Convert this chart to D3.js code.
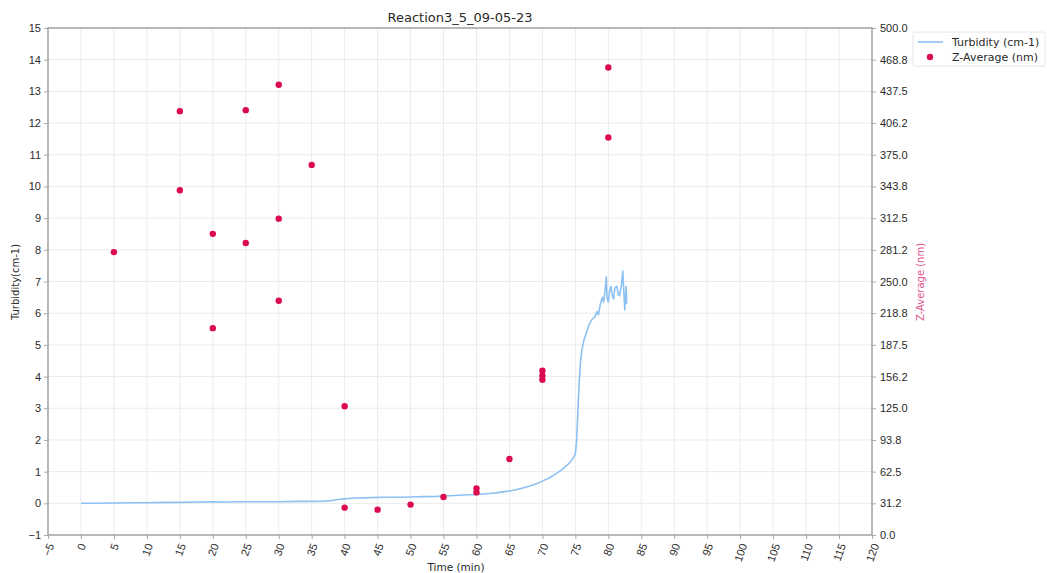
<!DOCTYPE html>
<html>
<head>
<meta charset="utf-8">
<script src="https://cdn.jsdelivr.net/npm/d3@7"></script>
<style>
  html, body { margin: 0; padding: 0; background: #fff; }
  svg { display: block; font-family: "DejaVu Sans", sans-serif; }
</style>
</head>
<body>
<svg id="chart" width="1047" height="573"></svg>
<script>
// Turbidity trace (time in min, turbidity in cm-1)
const turbTime = [0, 2, 5, 8, 10, 13, 15, 18, 20, 22, 25, 28, 30, 33, 35, 37, 38, 39, 40, 41, 42, 44, 46, 48, 50,
  52, 54, 55, 56, 58, 60, 62, 63, 64, 65, 66, 67, 68, 69, 70, 71, 72, 73, 74, 74.6, 75.0, 75.2, 75.4, 75.6, 75.8,
  76.0, 76.3, 76.7, 77.0, 77.5, 78.0, 78.3, 78.5, 78.8, 79.1, 79.3, 79.5, 79.7, 79.8, 80.0, 80.2, 80.4, 80.6, 80.8,
  81.0, 81.3, 81.5, 81.7, 82.0, 82.2, 82.4, 82.5, 82.7, 82.8];
const turbValue = [0.00, 0.00, 0.01, 0.02, 0.02, 0.03, 0.03, 0.04, 0.05, 0.04, 0.05, 0.05, 0.05, 0.06, 0.06, 0.07,
  0.09, 0.12, 0.14, 0.16, 0.17, 0.18, 0.19, 0.19, 0.20, 0.21, 0.22, 0.23, 0.24, 0.26, 0.28, 0.31, 0.33, 0.36, 0.39,
  0.43, 0.48, 0.54, 0.61, 0.70, 0.80, 0.92, 1.07, 1.25, 1.40, 1.55, 2.0, 3.0, 3.9, 4.5, 4.85, 5.15, 5.4, 5.6, 5.8,
  5.9, 6.05, 5.95, 6.3, 6.5, 6.35, 6.7, 7.15, 6.5, 6.35, 6.7, 6.85, 6.55, 6.45, 6.8, 6.85, 6.6, 6.55, 6.9, 7.33,
  6.5, 6.1, 6.85, 6.3];

// Z-Average measurements (time in min, size in nm)
const zTime = [5, 15, 15, 20, 20, 25, 25, 30, 30, 30, 35, 40, 40, 45, 50, 55, 60, 60, 65, 70, 70, 70, 80, 80];
const zValue = [279, 418, 340, 297, 204, 419, 288, 444, 312, 231, 365, 127, 27, 25, 30, 37.5, 46, 42, 75,
  162, 157, 153, 461, 392];

// Axis ticks
const xTicks = d3.range(-5, 121, 5);
const yTicks = d3.range(-1, 16, 1);
const y2Ticks = d3.range(0, 17).map(i => i * 500 / 16);
const y2TickLabels = ["0.0", "31.2", "62.5", "93.8", "125.0", "156.2", "187.5", "218.8", "250.0",
  "281.2", "312.5", "343.8", "375.0", "406.2", "437.5", "468.8", "500.0"];

const titleText = "Reaction3_5_09-05-23";
const xLabel = "Time (min)";
const yLabel = "Turbidity(cm-1)";
const y2Label = "Z-Average (nm)";
const seriesNames = ["Turbidity (cm-1)", "Z-Average (nm)"];

const lineColor = "#8cc1f2";
const dotColor = "#dc0a4e";
const textColor = "#2a2a2a";
const spineColor = "#a9a9a9";
const gridColor = "#ebebeb";

const plot = { left: 48, right: 872, top: 28, bottom: 535 };

const svg = d3.select("#chart");

const x = d3.scaleLinear().domain([-5, 120]).range([plot.left, plot.right]);
const y = d3.scaleLinear().domain([-1, 15]).range([plot.bottom, plot.top]);
const y2 = d3.scaleLinear().domain([0, 500]).range([plot.bottom, plot.top]);

// grid
const grid = svg.append("g");
grid.selectAll("line.vx").data(xTicks).join("line")
  .attr("x1", d => x(d)).attr("x2", d => x(d))
  .attr("y1", plot.top).attr("y2", plot.bottom)
  .attr("stroke", gridColor).attr("stroke-width", 1);
grid.selectAll("line.hy").data(yTicks).join("line")
  .attr("x1", plot.left).attr("x2", plot.right)
  .attr("y1", d => y(d)).attr("y2", d => y(d))
  .attr("stroke", gridColor).attr("stroke-width", 1);

// axes
function styleAxis(g) {
  g.select(".domain").remove();
  g.selectAll(".tick line").attr("stroke", spineColor).attr("stroke-width", 1);
  g.selectAll(".tick text").attr("fill", textColor).attr("font-size", 11);
}

svg.append("g")
  .attr("transform", `translate(${plot.left},0)`)
  .call(d3.axisLeft(y).tickValues(yTicks).tickFormat(d => d < 0 ? "\u2212" + Math.abs(d) : d).tickSize(4).tickPadding(3))
  .call(styleAxis);

svg.append("g")
  .attr("transform", `translate(${plot.right},0)`)
  .call(d3.axisRight(y2).tickValues(y2Ticks).tickFormat((d, i) => y2TickLabels[i]).tickSize(4).tickPadding(4))
  .call(styleAxis);

const xAxis = svg.append("g")
  .attr("transform", `translate(0,${plot.bottom})`)
  .call(d3.axisBottom(x).tickValues(xTicks).tickFormat(d => d < 0 ? "\u2212" + Math.abs(d) : d).tickSize(4))
  .call(styleAxis);

// rotated x tick labels, top-aligned below the axis
xAxis.selectAll(".tick text").each(function () {
  const t = d3.select(this);
  const w = this.getComputedTextLength();
  const h = 11;
  const ang = 70 * Math.PI / 180;
  const H = w * Math.sin(ang) + h * Math.cos(ang);
  t.attr("y", null).attr("dy", "0.35em")
    .attr("text-anchor", "middle")
    .attr("transform", `translate(0,${7 + H / 2}) rotate(-70)`);
});

// spines
svg.append("rect")
  .attr("x", plot.left).attr("y", plot.top)
  .attr("width", plot.right - plot.left).attr("height", plot.bottom - plot.top)
  .attr("fill", "none").attr("stroke", spineColor).attr("stroke-width", 1.6);

// turbidity line
const turbData = turbTime.map((t, i) => [t, turbValue[i]]);
svg.append("path")
  .datum(turbData)
  .attr("fill", "none")
  .attr("stroke", lineColor)
  .attr("stroke-width", 1.6)
  .attr("stroke-linejoin", "round")
  .attr("d", d3.line().x(d => x(d[0])).y(d => y(d[1])));

// Z-Average points
svg.append("g").selectAll("circle")
  .data(zTime.map((t, i) => [t, zValue[i]]))
  .join("circle")
  .attr("cx", d => x(d[0])).attr("cy", d => y2(d[1]))
  .attr("r", 3.2).attr("fill", dotColor);

// titles and axis labels
svg.append("text")
  .attr("x", (plot.left + plot.right) / 2).attr("y", 22)
  .attr("text-anchor", "middle").attr("font-size", 13).attr("fill", textColor)
  .text(titleText);

svg.append("text")
  .attr("x", 456).attr("y", 571)
  .attr("text-anchor", "middle").attr("font-size", 10.5).attr("fill", textColor)
  .text(xLabel);

svg.append("text")
  .attr("transform", `translate(19,282) rotate(-90)`)
  .attr("text-anchor", "middle").attr("font-size", 10).attr("fill", textColor)
  .text(yLabel);

svg.append("text")
  .attr("transform", `translate(924,282) rotate(-90)`)
  .attr("text-anchor", "middle").attr("font-size", 10).attr("fill", "#e2548a")
  .text(y2Label);

// legend
const legend = svg.append("g");
legend.append("rect")
  .attr("x", 913).attr("y", 32).attr("width", 132).attr("height", 34)
  .attr("fill", "#fff").attr("stroke", "#e6e6e6").attr("stroke-width", 1).attr("rx", 2);
legend.append("line")
  .attr("x1", 918).attr("x2", 943).attr("y1", 42).attr("y2", 42)
  .attr("stroke", lineColor).attr("stroke-width", 1.6);
legend.append("circle")
  .attr("cx", 930).attr("cy", 57).attr("r", 3.2).attr("fill", dotColor);
legend.selectAll("text.lg").data(seriesNames).join("text")
  .attr("x", 952).attr("y", (d, i) => 42 + i * 15).attr("dy", "0.35em")
  .attr("font-size", 11).attr("fill", textColor)
  .text(d => d);
</script>
</body>
</html>
